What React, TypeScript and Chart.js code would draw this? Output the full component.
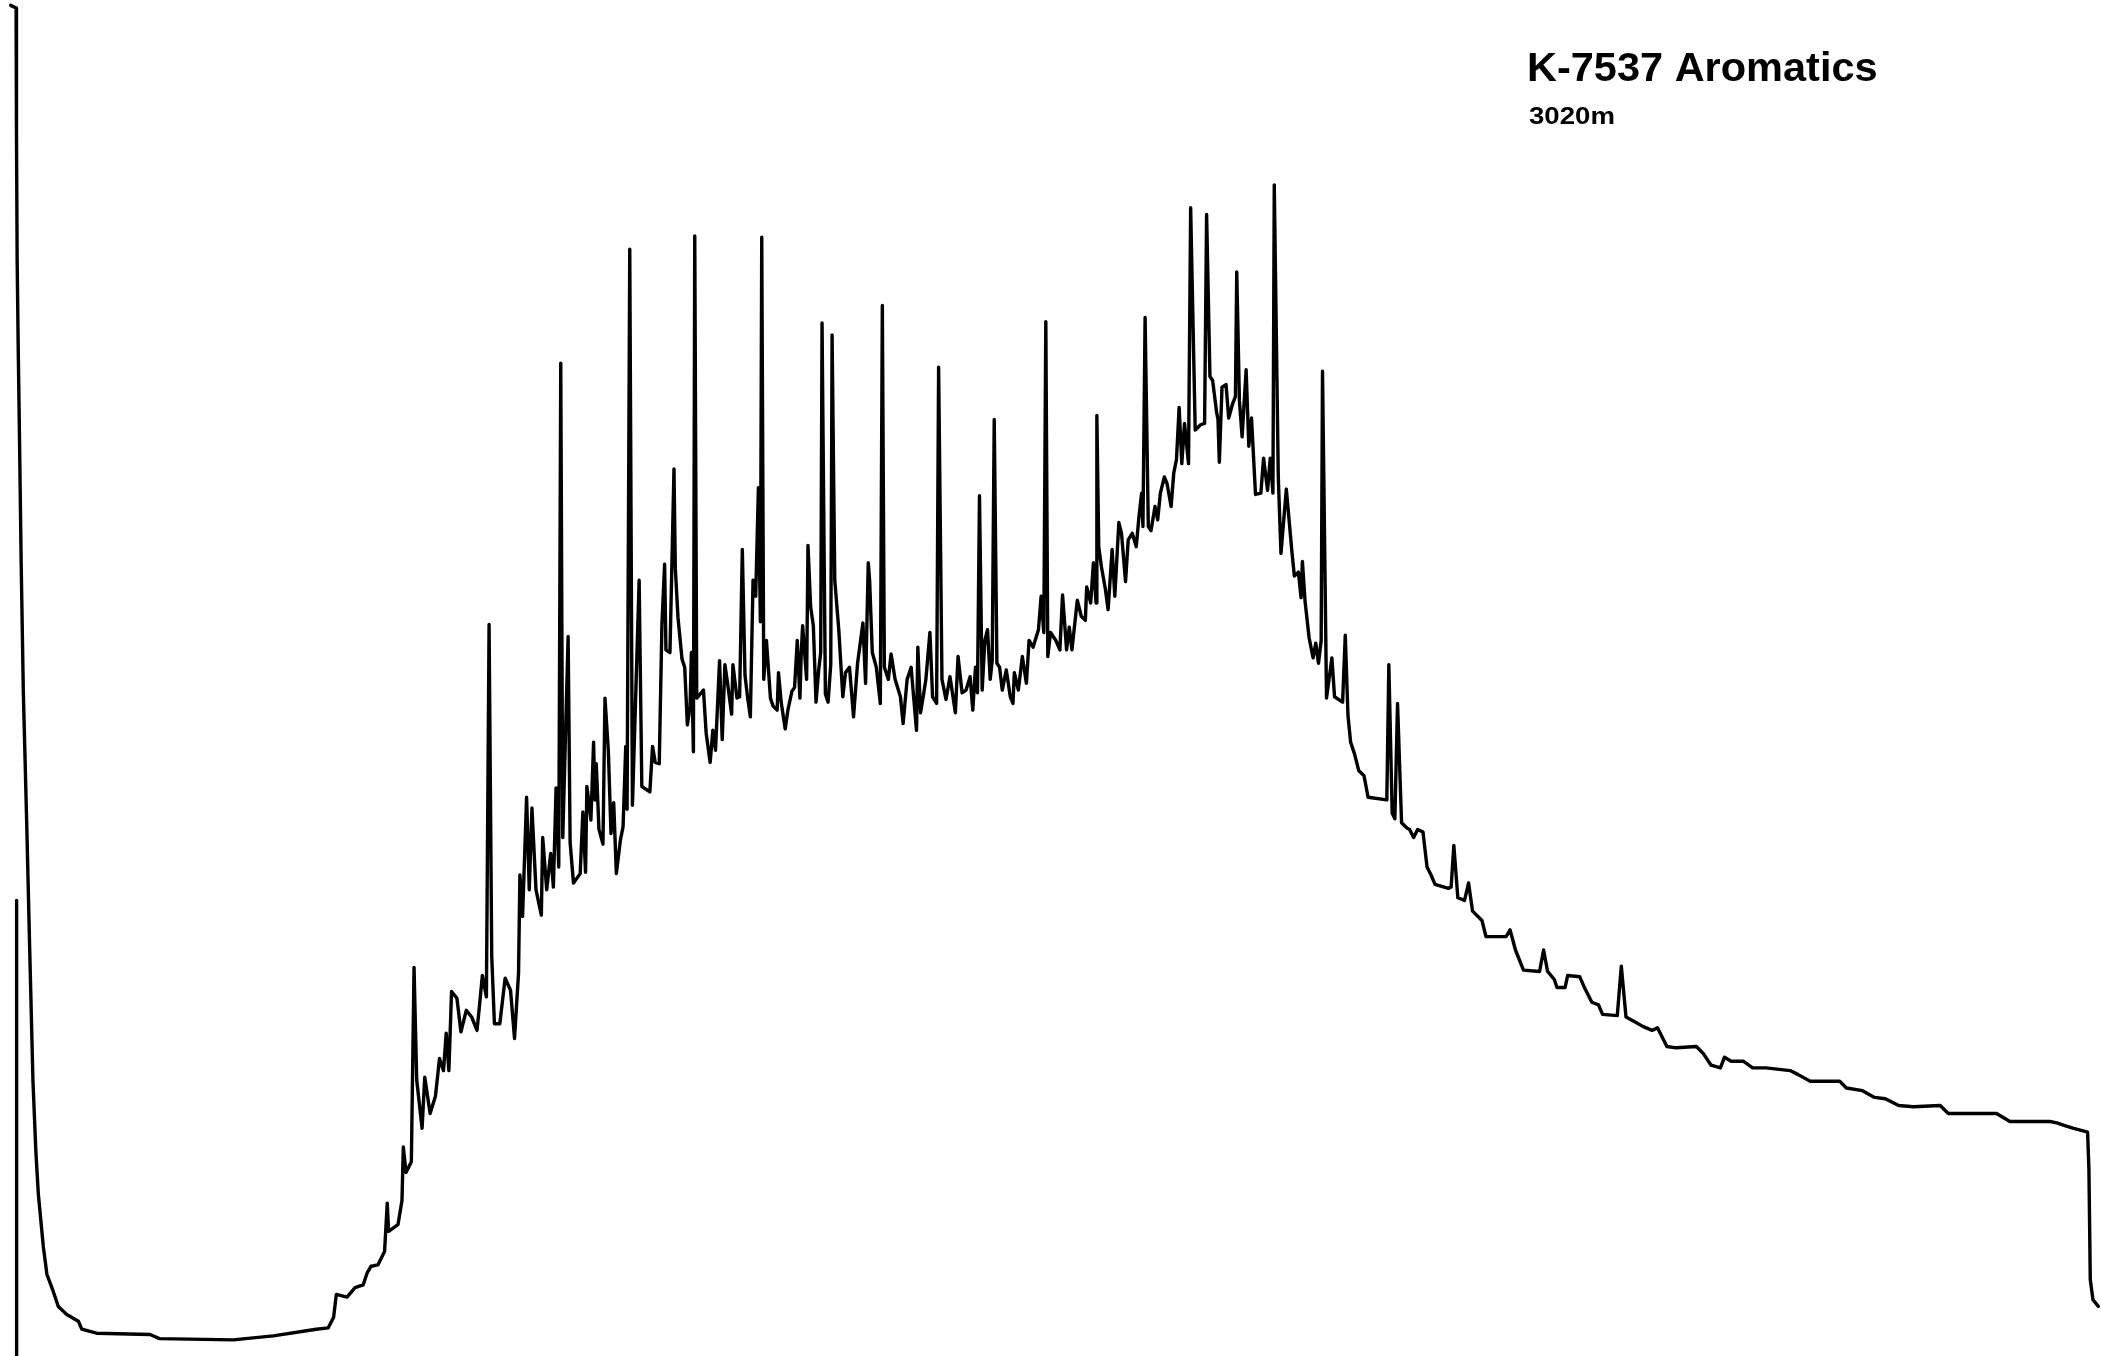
import React, { useEffect, useRef } from "react";
import { Chart, registerables } from "chart.js";

Chart.register(...registerables);

// ---- Text ----
const titleText = "K-7537 Aromatics";
const depthText = "3020m";

// ---- Data: [retention (a.u.), detector response (a.u.)] ----
const solventFront: [number, number][] = [
  [12.4, 0], [12.4, 340],
];

const solventTail: [number, number][] = [
  [8, 1008], [12, 1006], [12.3, 912], [12.8, 818], [13.6, 752], [14.5, 689], [15.8, 592],
  [17.4, 496], [19.9, 399], [22.2, 302], [24.6, 205], [26.8, 152], [28.6, 121], [32.3, 82],
  [35, 61], [39.8, 48], [43.5, 37], [49.8, 31], [58.5, 26], [61, 20], [72, 17], [112, 16],
  [119, 13], [174, 12], [204, 15], [236, 20], [245, 21], [249, 29],
];

const earlyEluters: [number, number][] = [
  [251, 46], [259, 44], [265, 51], [271, 53], [274, 62], [277, 67], [282, 68], [287, 78],
  [289, 114], [290, 93], [297, 98], [300, 116], [301, 156], [303, 137], [307, 145], [309, 290],
  [311, 206], [315, 170], [317, 208], [321, 181], [325, 194], [328, 222], [331, 213], [333, 241],
  [335, 213], [337, 272], [341, 267], [344, 242], [348, 258], [352, 253], [356, 243], [358, 263],
  [360, 284], [363, 268], [365, 546], [367, 298], [369, 248], [373, 248], [377, 282], [381, 273],
  [384, 237], [387, 286], [388, 359], [390, 328], [393, 417], [395, 348], [397, 409], [400, 348],
  [404, 329], [405, 387], [408, 348], [411, 375], [413, 350], [415, 424], [417, 365], [418.5, 741],
  [420, 387], [424, 537], [425.5, 383], [428, 353], [433, 360], [435, 406], [437, 361], [438, 425],
  [441, 400], [443, 458], [444, 415], [445, 442], [447, 393], [450, 382], [451.5, 491], [454, 452],
  [456, 390], [458, 413], [460, 360], [463, 385], [465, 395], [467, 455], [468, 408], [470, 826],
  [472, 411], [477, 579], [479, 425], [485, 421], [487, 455], [489, 443], [492, 442], [494, 546],
  [496, 591], [497, 527], [500, 525], [503, 662], [504, 588], [506, 551], [509, 520], [511, 514],
  [513, 471], [515, 485], [516, 525], [517.5, 451], [518.5, 836], [520, 491], [525, 497], [527, 465],
  [530, 443], [532, 467], [534, 452], [537, 519], [539, 460], [541, 516], [543, 502], [546, 479],
  [547, 516], [550, 491], [552, 492], [554, 602], [556, 508], [558, 491], [560, 477], [562, 579],
  [564, 567], [566, 648], [567.5, 548], [568.5, 835], [570, 505], [572, 534], [575, 491], [577, 485],
];

const midRange: [number, number][] = [
  [580, 482], [581, 510], [583, 488], [586, 468], [588, 482], [591, 496], [593, 499], [595, 534],
  [597, 491], [598, 525], [599, 545], [602, 505], [603, 605], [605, 559], [607, 545], [609, 488],
  [611, 512], [612.5, 525], [613.5, 771], [616, 494], [618, 488], [620, 516], [621, 762], [623, 579],
  [626, 542], [629, 492], [631, 510], [634, 514], [637, 477], [640, 517], [642, 532], [644, 547],
  [646, 502], [648, 592], [649, 579], [651, 525], [654, 514], [657, 487], [658.5, 784], [660, 514],
  [663, 505], [665, 524], [668, 505], [672, 492], [674, 472], [677, 505], [680, 514], [682, 490],
  [684, 467], [685, 529], [687, 480], [689, 492], [691, 505], [694, 540], [696, 492], [699, 487],
  [700.5, 738], [703, 505], [706, 490], [709, 507], [713, 480], [715, 522], [718, 495], [721, 497],
  [724, 507], [726, 482], [728, 514], [729.5, 495], [731, 642], [733, 497], [735, 534], [737, 542],
  [739, 505], [740.5, 519], [742, 699], [744, 517], [746, 514], [748, 497], [751, 512], [754, 492],
  [756, 487], [757, 510], [760, 497], [763, 522], [766, 502], [768, 534], [771, 529], [775, 542],
  [777, 567], [779, 540], [780.5, 772], [782, 522], [784, 540], [788, 534], [791, 527], [793, 568],
  [796, 527], [798, 544], [800, 527], [804, 564],
];

const hump: [number, number][] = [
  [807, 552], [810, 549], [811, 574], [814, 562], [816, 592], [818, 562], [818.6, 702], [820, 604],
  [822, 589], [825, 572], [827, 557], [830, 602], [832, 567], [835, 622], [837, 614], [840, 578],
  [842, 609], [845, 614], [848, 604], [850, 626], [852, 644], [853, 619], [854.6, 775], [857, 619],
  [859, 616], [862, 634], [864, 624], [866, 644], [869, 656], [871, 651], [874, 634], [876, 659],
  [878, 669], [880, 708], [882, 666], [884, 696], [887, 666], [888.6, 857], [892, 691], [896, 695],
  [899, 696], [900.5, 852], [903, 731], [905, 728], [908, 704], [909, 699], [910, 667], [912, 723],
  [915, 725], [917, 700], [920, 711], [922, 716], [923, 809], [925, 713], [927, 686], [930, 736],
  [932, 679], [934, 700], [937, 643], [941, 644], [943, 670], [946, 646], [948, 670], [950, 644],
  [951, 874], [954, 656], [956, 599], [960, 647], [964, 602], [966, 582], [969, 585], [971, 566],
  [972, 593], [974, 563], [977, 536], [980, 521], [982, 532], [984, 517], [986, 534], [987, 735],
  [990, 491], [994, 521], [996, 492], [1002, 488], [1004, 538], [1006, 478], [1008, 458],
  [1011, 449], [1014, 437], [1018, 433], [1021, 417], [1035, 415], [1036.5, 516], [1039, 405],
  [1041, 401], [1043, 487], [1046, 398],
];

const lateTail: [number, number][] = [
  [1050, 394], [1052, 393], [1055, 387], [1058, 393], [1062, 391], [1065, 365], [1068, 359],
  [1071, 352], [1081, 349], [1083, 350], [1085, 381], [1088, 342], [1093, 340], [1096, 353],
  [1099, 332], [1106, 325], [1109, 313], [1124, 313], [1127, 318], [1131, 303], [1137, 288],
  [1149, 287], [1152, 303], [1155, 287], [1160, 281], [1162, 275], [1168, 275], [1170, 284],
  [1179, 283], [1182, 276], [1188, 264], [1193, 262], [1196, 255], [1207, 254], [1210, 291],
  [1213.5, 253], [1219, 250], [1226, 246], [1233, 243], [1237, 245], [1244, 231], [1251, 230],
  [1266, 231], [1271, 226], [1277, 217], [1284, 215], [1287, 223], [1292, 220], [1301, 220],
  [1308, 215], [1318, 215], [1336, 213], [1342, 210], [1351, 205], [1373, 205], [1378, 200],
  [1390, 198], [1399, 193], [1407, 192], [1417, 187], [1428, 186], [1448, 187], [1454, 181],
  [1490, 181], [1500, 175], [1530, 175], [1535, 174], [1541, 172], [1547, 170], [1558, 167],
  [1559, 139], [1560, 57], [1562, 42], [1566, 37],
];

const X_MAX = 1568;
const Y_MAX = 1012;

const toXY = (pts: [number, number][]) => pts.map(([x, y]) => ({ x, y }));

const labelPlugin = {
  id: "chromLabels",
  afterDraw(chart: any) {
    const ctx = chart.ctx as CanvasRenderingContext2D;
    ctx.save();
    ctx.fillStyle = "#000";
    ctx.textBaseline = "alphabetic";
    ctx.textAlign = "left";
    ctx.font = "bold 41.5px 'Liberation Sans', Arial, sans-serif";
    ctx.fillText(titleText, 1527, 81);
    ctx.translate(1529, 124);
    ctx.scale(1.2, 1);
    ctx.font = "bold 23px 'Liberation Sans', Arial, sans-serif";
    ctx.fillText(depthText, 0, 0);
    ctx.restore();
  },
};

export default function App() {
  const canvasRef = useRef<HTMLCanvasElement | null>(null);

  useEffect(() => {
    if (!canvasRef.current) return;
    const mainTrace = [
      ...solventTail,
      ...earlyEluters,
      ...midRange,
      ...hump,
      ...lateTail,
    ];
    const common = {
      borderColor: "#000",
      borderWidth: 3.4,
      pointRadius: 0,
      tension: 0,
      fill: false,
      borderJoinStyle: "round" as const,
      borderCapStyle: "round" as const,
      clip: false as const,
    };
    const chart = new Chart(canvasRef.current, {
      type: "line",
      data: {
        datasets: [
          { ...common, label: "Solvent front", data: toXY(solventFront) },
          { ...common, label: "K-7537 aromatics", data: toXY(mainTrace) },
        ],
      },
      options: {
        animation: false,
        responsive: false,
        maintainAspectRatio: false,
        devicePixelRatio: 1,
        parsing: false as any,
        normalized: true,
        layout: { padding: 0 },
        plugins: {
          legend: { display: false },
          tooltip: { enabled: false },
          title: { display: false },
        },
        scales: {
          x: { type: "linear", min: 0, max: X_MAX, display: false },
          y: { type: "linear", min: 0, max: Y_MAX, display: false },
        },
      },
      plugins: [labelPlugin],
    });
    return () => chart.destroy();
  }, []);

  return (
    <div
      style={{
        position: "fixed",
        left: 0,
        top: 0,
        width: 2101,
        height: 1356,
        background: "#fff",
      }}
    >
      <canvas ref={canvasRef} width={2101} height={1356} style={{ display: "block" }} />
    </div>
  );
}
